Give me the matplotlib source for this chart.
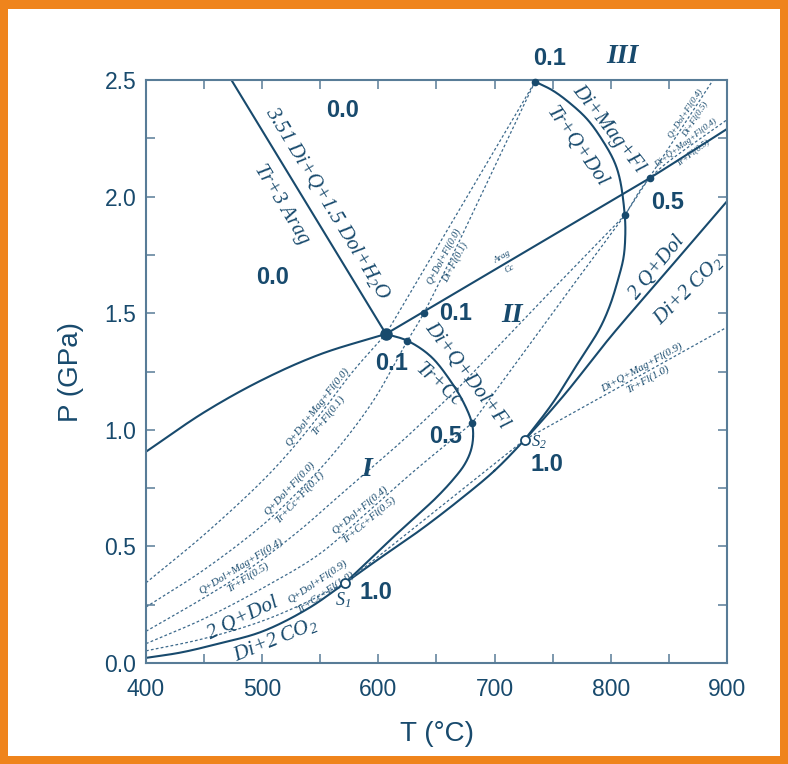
import numpy as np
import matplotlib
matplotlib.use("Agg")
import matplotlib.pyplot as plt
from matplotlib.patches import Rectangle

plt.rcParams['font.family'] = ['Liberation Sans', 'DejaVu Sans']
plt.rcParams['mathtext.fontset'] = 'custom'
plt.rcParams['mathtext.rm'] = 'Liberation Serif:italic'
plt.rcParams['mathtext.it'] = 'Liberation Serif:italic'

# ---------------- data (T in degC, P in GPa) ----------------
# Aragonite / calcite boundary
arag_T = [400, 450, 500, 550, 606.5, 700, 800, 833.7, 900]
arag_P = [0.906, 1.075, 1.214, 1.324, 1.411, 1.686, 1.98, 2.08, 2.29]
# 3.51 Di+Q+1.5 Dol+H2O = Tr+3 Arag
r351_T = [473.5, 606.5]
r351_P = [2.5, 1.411]
# 2 Q+Dol = Di+2 CO2
main_T = [400, 430, 460, 500, 540, 571.5, 600, 636, 670, 700, 726, 760, 800, 850, 900]
main_P = [0.022, 0.045, 0.08, 0.135, 0.235, 0.344, 0.445, 0.57, 0.70, 0.825, 0.958, 1.15, 1.40, 1.69, 1.98]
# Di+Q+Dol+Fl = Tr+Cc loop
loop_T = [606.5, 624.9, 645, 662, 674, 680.5, 681.5, 679.5, 674, 664, 650, 636, 615, 594, 571.5]
loop_P = [1.411, 1.382, 1.315, 1.21, 1.11, 1.028, 0.97, 0.91, 0.85, 0.785, 0.71, 0.645, 0.55, 0.45, 0.344]
# Di+Mag+Fl = Tr+Q+Dol
mag_T = [734.8, 750, 765, 780, 793, 803, 808, 812, 812.5, 811, 806, 799, 790, 773.5, 750, 726]
mag_P = [2.493, 2.455, 2.40, 2.33, 2.24, 2.15, 2.07, 1.92, 1.84, 1.74, 1.64, 1.53, 1.43, 1.30, 1.115, 0.958]

# fluid-composition isopleths (dashed)
mag00_T = [400, 450, 500, 526, 552, 578, 606.5, 734.8]
mag00_P = [0.344, 0.55, 0.78, 0.92, 1.08, 1.25, 1.411, 2.493]
cc00_T = [400, 450, 500, 530, 560, 595, 624.9, 639, 734.8]
cc00_P = [0.24, 0.40, 0.59, 0.73, 0.89, 1.12, 1.382, 1.50, 2.493]
mag04_T = [400, 450, 485, 530, 567, 620, 667, 741, 812, 833.7, 900]
mag04_P = [0.136, 0.28, 0.39, 0.56, 0.72, 0.95, 1.17, 1.556, 1.92, 2.08, 2.33]
cc04_T = [400, 450, 500, 550, 588, 630, 680.5, 758, 812, 888]
cc04_P = [0.083, 0.19, 0.32, 0.47, 0.635, 0.82, 1.028, 1.556, 1.92, 2.5]
cc09_T = [400, 450, 500, 540, 571.5]
cc09_P = [0.052, 0.105, 0.18, 0.265, 0.344]
mag09_T = [571.5, 726, 900]
mag09_P = [0.344, 0.958, 1.44]

# invariant / singular points
dot_T = [639, 624.9, 680.5, 734.8, 812, 833.7]
dot_P = [1.50, 1.382, 1.028, 2.493, 1.92, 2.08]
inv_T, inv_P = [606.5], [1.411]
sing_T = [571.5, 726]
sing_P = [0.344, 0.958]

xticks = [400, 500, 600, 700, 800, 900]
yticks = [0.0, 0.5, 1.0, 1.5, 2.0, 2.5]

# ---------------- styling ----------------
C = '#184a6d'
CD = '#3d6a8c'
SPINE = '#587c97'
SERIF = ['Liberation Serif', 'DejaVu Serif']
SX, SY = 1.162, 233.2   # px per degC / per GPa (for smooth drawing only)


def _cr(p0, p1, p2, p3, n=24):
    def tj(ti, a, b):
        return ti + max(np.hypot(*(b - a)), 1e-9) ** 0.5
    t0 = 0.0
    t1 = tj(t0, p0, p1)
    t2 = tj(t1, p1, p2)
    t3 = tj(t2, p2, p3)
    t = np.linspace(t1, t2, n)[:, None]
    A1 = (t1 - t) / (t1 - t0) * p0 + (t - t0) / (t1 - t0) * p1
    A2 = (t2 - t) / (t2 - t1) * p1 + (t - t1) / (t2 - t1) * p2
    A3 = (t3 - t) / (t3 - t2) * p2 + (t - t2) / (t3 - t2) * p3
    B1 = (t2 - t) / (t2 - t0) * A1 + (t - t0) / (t2 - t0) * A2
    B2 = (t3 - t) / (t3 - t1) * A2 + (t - t1) / (t3 - t1) * A3
    return (t2 - t) / (t2 - t1) * B1 + (t - t1) / (t2 - t1) * B2


def smooth(T, P, breaks=()):
    """Draw a smooth curve through the read points, keeping corners at breaks."""
    pts = np.column_stack([np.asarray(T, float) * SX, np.asarray(P, float) * SY])
    idx = [0] + list(breaks) + [len(pts) - 1]
    out = []
    for a, b in zip(idx[:-1], idx[1:]):
        seg = pts[a:b + 1]
        if len(seg) < 3:
            out.append(seg)
            continue
        ext = np.vstack([2 * seg[0] - seg[1], seg, 2 * seg[-1] - seg[-2]])
        for i in range(1, len(ext) - 2):
            out.append(_cr(ext[i - 1], ext[i], ext[i + 1], ext[i + 2]))
    out = np.vstack(out)
    return out[:, 0] / SX, out[:, 1] / SY


fig = plt.figure(figsize=(7.88, 7.64), dpi=100)
ax = fig.add_axes([146/788, 101/764, 581/788, 583/764])

solid = dict(color=C, lw=1.5, solid_capstyle='butt')
dash = dict(color=CD, lw=0.9, ls=(0, (2.2, 1.8)))

for T, P, br in [(arag_T, arag_P, (4,)), (r351_T, r351_P, ()), (main_T, main_P, ()),
                 (loop_T, loop_P, ()), (mag_T, mag_P, ())]:
    ax.plot(*smooth(T, P, br), **solid)
for T, P, br in [(mag00_T, mag00_P, (6,)), (cc00_T, cc00_P, (6,)),
                 (mag04_T, mag04_P, (6, 8)), (cc04_T, cc04_P, (6, 8)),
                 (cc09_T, cc09_P, ()), (mag09_T, mag09_P, (1,))]:
    ax.plot(*smooth(T, P, br), **dash)

ax.plot(dot_T, dot_P, 'o', color=C, ms=4.5, zorder=5, clip_on=False)
ax.plot(inv_T, inv_P, 'o', color=C, ms=8, zorder=5)
ax.plot(sing_T, sing_P, 'o', mfc='white', mec=C, mew=1.3, ms=6.5, zorder=6)

ax.set_xlim(400, 900)
ax.set_ylim(0, 2.5)
ax.set_xticks(xticks)
ax.set_yticks(yticks)
ax.set_xticks(np.arange(450, 900, 100), minor=True)
ax.set_yticks(np.arange(0.25, 2.5, 0.5), minor=True)
ax.set_yticklabels([f'{v:.1f}' for v in yticks])
ax.tick_params(which='both', direction='in', length=6.5, width=1.1, color=SPINE,
               top=True, right=True, labelsize=16.5, labelcolor=C)
ax.tick_params(axis='x', pad=11)
ax.tick_params(axis='y', pad=7)
for s in ax.spines.values():
    s.set_color(SPINE)
    s.set_linewidth(1.5)

ax.set_xlabel('T (°C)', fontsize=20, color=C, labelpad=14)
ax.set_ylabel('P (GPa)', fontsize=20, color=C, labelpad=15)


def txt(T, P, s, rot=0, size=15, **kw):
    ax.text(T, P, s, rotation=rot, rotation_mode='anchor', ha='center', va='center',
            fontsize=size, color=C, family=SERIF, style='italic', clip_on=False, **kw)


def num(T, P, s, size=17):
    ax.text(T, P, s, ha='center', va='center', fontsize=size, color=C,
            fontweight='bold', clip_on=False)


def pair(T, P, top, bot, ang, size=7.8, gap=4.7):
    r = np.deg2rad(ang)
    nx, ny = -np.sin(r), np.cos(r)
    for s, sg in ((top, 1), (bot, -1)):
        ax.annotate(s, (T, P), xytext=(sg * gap * nx, sg * gap * ny),
                    textcoords='offset points', rotation=ang, rotation_mode='anchor',
                    ha='center', va='center', fontsize=size, color=C, family=SERIF,
                    style='italic')


# big labels on reaction curves
txt(556.6, 1.97, r'3.51 Di+Q+1.5 Dol+H$_2$O', -58.7)
txt(516.8, 1.964, 'Tr+3 Arag', -58.7)
txt(797.6, 2.29, 'Di+Mag+Fl', -52)
txt(770.6, 2.214, 'Tr+Q+Dol', -55)
txt(676.2, 1.233, 'Di+Q+Dol+Fl', -53)
txt(651.7, 1.19, 'Tr+Cc', -42)
txt(839.8, 1.694, '2 Q+Dol', 51)
txt(866.7, 1.60, r'Di+2 CO$_2$', 45)
txt(483.5, 0.19, '2 Q+Dol', 26)
txt(511, 0.10, r'Di+2 CO$_2$', 22)
pair(710, 1.716, 'Arag', 'Cc', 30.6, size=6.5, gap=5)

# isopleth labels
pair(552, 1.08, 'Q+Dol+Mag+Fl(0.0)', 'Tr+Fl(0.1)', 52)
pair(528, 0.73, 'Q+Dol+Fl(0.0)', 'Tr+Cc+Fl(0.1)', 47)
pair(485, 0.39, 'Q+Dol+Mag+Fl(0.4)', 'Tr+Fl(0.5)', 32)
pair(588, 0.635, 'Q+Dol+Fl(0.4)', 'Tr+Cc+Fl(0.5)', 40)
pair(551, 0.325, 'Q+Dol+Fl(0.9)', 'Tr+Cc+Fl(1.0)', 34)
pair(829, 1.243, 'Di+Q+Mag+Fl(0.9)', 'Tr+Fl(1.0)', 29)
pair(661, 1.73, 'Q+Dol+Fl(0.0)', 'Di+Fl(0.1)', 62, size=7)
pair(868, 2.345, 'Q+Dol+Fl(0.4)', 'Di+Fl(0.5)', 57, size=6.5, gap=4.2)
pair(868, 2.21, 'Di+Q+Mag+Fl(0.4)', 'Tr+Fl(0.5)', 37, size=6.5, gap=4.2)

# X(CO2) numbers and field labels
num(569.5, 2.371, '0.0')
num(509.3, 1.655, '0.0')
num(747.7, 2.594, '0.1')
num(666, 1.50, '0.1')
num(611, 1.284, '0.1')
num(657.7, 0.971, '0.5')
num(848.8, 1.975, '0.5')
num(598, 0.304, '1.0')
num(744.8, 0.853, '1.0')
for T, P, s in [(590, 0.828, 'I'), (715, 1.488, 'II'), (809.6, 2.6, 'III')]:
    txt(T, P, s, 0, size=20, fontweight='bold')
txt(569.5, 0.27, r'S$_1$', 0, size=13)
txt(737.8, 0.946, r'S$_2$', 0, size=12)

# orange frame
OR = '#ef841c'
for x, y, w, h in [(0, 0, 8/788, 1), (1 - 8/788, 0, 8/788, 1),
                   (0, 1 - 9/764, 1, 9/764), (0, 0, 1, 8/764)]:
    fig.patches.append(Rectangle((x, y), w, h, transform=fig.transFigure,
                                 facecolor=OR, edgecolor='none', zorder=10))

fig.savefig('out.png', dpi=100)
